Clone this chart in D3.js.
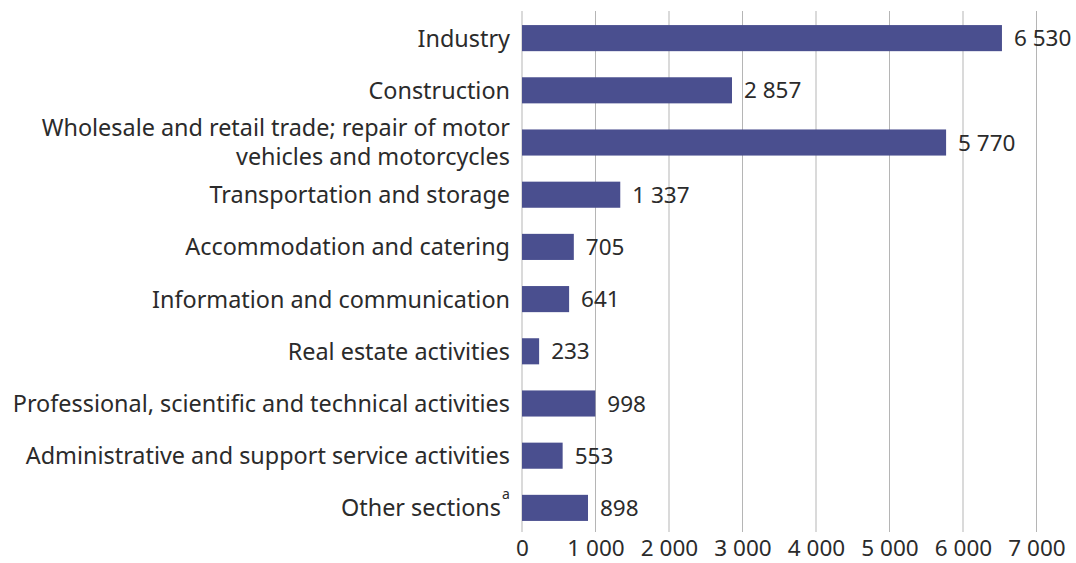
<!DOCTYPE html>
<html>
<head>
<meta charset="utf-8">
<script src="https://cdn.jsdelivr.net/npm/d3@7"></script>
<style>
  body { margin: 0; background: #fff; }
  text { font-family: "Noto Sans", "Open Sans", sans-serif; fill: #2b2b2b; }
</style>
</head>
<body>
<script>
// sections of the economy, top to bottom
const categories = [
  "Industry",
  "Construction",
  "Wholesale and retail trade; repair of motor vehicles and motorcycles",
  "Transportation and storage",
  "Accommodation and catering",
  "Information and communication",
  "Real estate activities",
  "Professional, scientific and technical activities",
  "Administrative and support service activities",
  "Other sections"
];
// label lines (wrapped by hand like the original)
const labelLines = [
  ["Industry"],
  ["Construction"],
  ["Wholesale and retail trade; repair of motor", "vehicles and motorcycles"],
  ["Transportation and storage"],
  ["Accommodation and catering"],
  ["Information and communication"],
  ["Real estate activities"],
  ["Professional, scientific and technical activities"],
  ["Administrative and support service activities"],
  ["Other sections"]
];
const values = [6530, 2857, 5770, 1337, 705, 641, 233, 998, 553, 898];
const xTicks = [0, 1000, 2000, 3000, 4000, 5000, 6000, 7000];

const width = 1076, height = 563;
const svg = d3.select("body").append("svg")
  .attr("width", width)
  .attr("height", height);

const fmtSp = v => d3.format(",")(v).replace(/,/g, " ");

const x = d3.scaleLinear().domain([0, 7000]).range([522, 1036.5]);
const y = d3.scaleBand().domain(categories).range([11.5, 534.5])
  .paddingInner(0.5).paddingOuter(0.26);

// gridlines
svg.append("g").selectAll("line")
  .data(xTicks)
  .enter().append("line")
  .attr("x1", d => x(d)).attr("x2", d => x(d))
  .attr("y1", 11).attr("y2", 532)
  .attr("stroke", "#b5b5b5")
  .attr("stroke-width", 1);

// x axis labels
const xAxis = d3.axisBottom(x).tickValues(xTicks).tickSize(0).tickPadding(0)
  .tickFormat(fmtSp);
svg.append("g")
  .attr("transform", "translate(0,540)")
  .call(xAxis)
  .call(g => g.select(".domain").remove())
  .selectAll("text")
  .attr("dy", "0.71em")
  .style("font-size", "22.5px")
  .style("font-family", "'Noto Sans', sans-serif")
  .attr("fill", "#2b2b2b");

// bars
svg.append("g").selectAll("rect")
  .data(values)
  .enter().append("rect")
  .attr("x", x(0))
  .attr("y", (d, i) => y(categories[i]))
  .attr("width", d => x(d) - x(0))
  .attr("height", y.bandwidth())
  .attr("fill", "#4a4f8f");

// value labels
svg.append("g").selectAll("text")
  .data(values)
  .enter().append("text")
  .attr("x", d => x(d) + 12)
  .attr("y", (d, i) => y(categories[i]) + y.bandwidth() / 2)
  .attr("dy", "0.36em")
  .style("font-size", "22.5px")
  .text(d => fmtSp(d));

// category labels
const lab = svg.append("g").selectAll("text")
  .data(labelLines)
  .enter().append("text")
  .attr("text-anchor", "end")
  .attr("x", 510)
  .attr("y", (d, i) => y(categories[i]) + y.bandwidth() / 2)
  .style("font-size", "23.4px");

lab.each(function(lines) {
  const t = d3.select(this);
  const n = lines.length;
  lines.forEach((ln, j) => {
    t.append("tspan")
      .attr("x", 510)
      .attr("dy", j === 0 ? (0.36 - (n - 1) * 0.62) + "em" : "1.22em")
      .text(ln);
  });
});

// footnote marker on the last label
lab.filter((d, i) => i === categories.length - 1)
  .select("tspan")
  .attr("x", 501);
svg.append("text")
  .attr("x", 502)
  .attr("y", y(categories[9]) + y.bandwidth() / 2 - 9)
  .style("font-size", "14px")
  .text("a");
</script>
</body>
</html>
